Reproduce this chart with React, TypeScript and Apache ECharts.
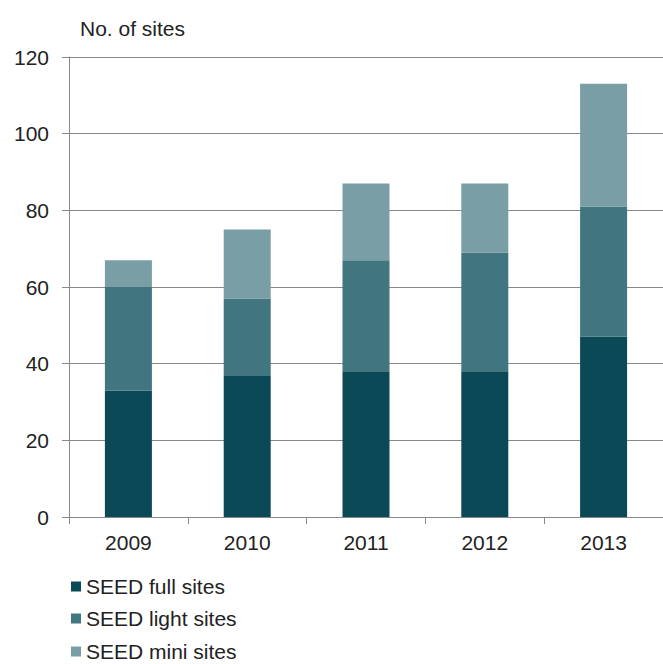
import React, { useEffect, useRef } from "react";
import * as echarts from "echarts";

const categories = ["2009", "2010", "2011", "2012", "2013"];
const fullSites = [33, 37, 38, 38, 47];
const lightSites = [27, 20, 29, 31, 34];
const miniSites = [7, 18, 20, 18, 32];
const seriesNames = ["SEED full sites", "SEED light sites", "SEED mini sites"];
const yTitle = "No. of sites";

const FONT = "'Liberation Sans', Arial, sans-serif";
const colors = ["#0b4957", "#41757f", "#7a9ea6"];
const legendTops = [571, 603, 636];

export default function App() {
  const ref = useRef<HTMLDivElement>(null);
  useEffect(() => {
    if (!ref.current) return;
    const chart = echarts.init(ref.current, null, { renderer: "svg" });
    const values = [fullSites, lightSites, miniSites];
    chart.setOption({
      animation: false,
      backgroundColor: "#ffffff",
      textStyle: { fontFamily: FONT },
      graphic: [
        {
          type: "text",
          left: 80,
          top: 18,
          style: { text: yTitle, fontFamily: FONT, fontSize: 21, fill: "#222" },
        },
      ],
      legend: seriesNames.map((name, i) => ({
        orient: "vertical",
        left: 66,
        top: legendTops[i],
        itemWidth: 10,
        itemHeight: 10,
        icon: "rect",
        data: [name],
        textStyle: { fontFamily: FONT, fontSize: 21, color: "#222" },
      })),
      grid: { left: 69, width: 598, top: 57, bottom: 147 },
      xAxis: {
        type: "category",
        data: categories,
        axisLine: { lineStyle: { color: "#888", width: 1 } },
        axisTick: { show: true, length: 7, alignWithLabel: false, lineStyle: { color: "#888" } },
        axisLabel: { fontFamily: FONT, fontSize: 21, color: "#222", margin: 15 },
      },
      yAxis: {
        type: "value",
        min: 0,
        max: 120,
        interval: 20,
        axisLine: { show: true, lineStyle: { color: "#888", width: 1 } },
        axisTick: { show: true, length: 7, lineStyle: { color: "#888" } },
        splitLine: { show: true, lineStyle: { color: "#888", width: 1 } },
        axisLabel: { fontFamily: FONT, fontSize: 21, color: "#222", margin: 20 },
      },
      series: seriesNames.map((name, i) => ({
        name,
        type: "bar",
        stack: "total",
        barWidth: 47,
        data: values[i],
        itemStyle: { color: colors[i] },
      })),
    });
    return () => chart.dispose();
  }, []);
  return (
    <div
      ref={ref}
      style={{ position: "absolute", left: 0, top: 0, width: 663, height: 664 }}
    />
  );
}
